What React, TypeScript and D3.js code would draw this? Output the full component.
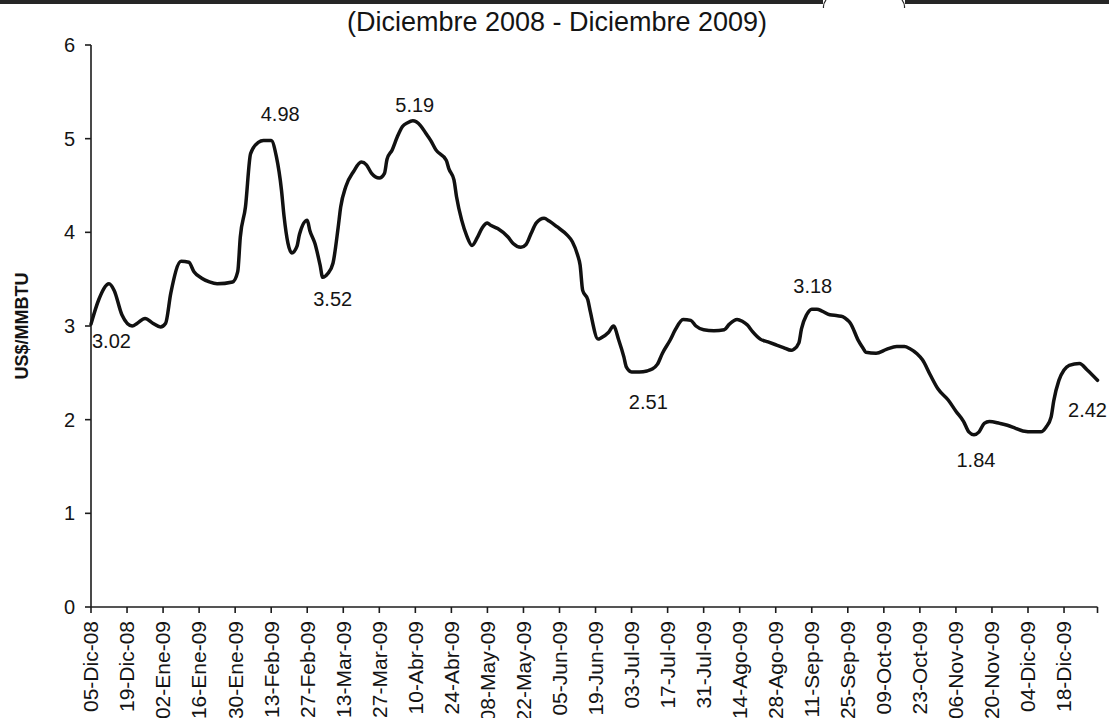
import React from "react";
import * as d3 from "d3";

const WIDTH = 1109;
const HEIGHT = 718;
const FONT = "'Liberation Sans', Arial, Helvetica, sans-serif";

const TITLE = "(Diciembre 2008 - Diciembre 2009)";
const Y_TITLE = "US$/MMBTU";
const Y_TICKS = [0, 1, 2, 3, 4, 5, 6];

const X_TICK_LABELS = [
  "05-Dic-08", "19-Dic-08", "02-Ene-09", "16-Ene-09", "30-Ene-09", "13-Feb-09",
  "27-Feb-09", "13-Mar-09", "27-Mar-09", "10-Abr-09", "24-Abr-09", "08-May-09",
  "22-May-09", "05-Jun-09", "19-Jun-09", "03-Jul-09", "17-Jul-09", "31-Jul-09",
  "14-Ago-09", "28-Ago-09", "11-Sep-09", "25-Sep-09", "09-Oct-09", "23-Oct-09",
  "06-Nov-09", "20-Nov-09", "04-Dic-09", "18-Dic-09",
];

// Henry Hub spot price, US$/MMBTU
const DATES = [
  "2008-12-05", "2008-12-08", "2008-12-12", "2008-12-14", "2008-12-17", "2008-12-21",
  "2008-12-23", "2008-12-26", "2008-12-29", "2009-01-01", "2009-01-03", "2009-01-05",
  "2009-01-09", "2009-01-12", "2009-01-14", "2009-01-17", "2009-01-20", "2009-01-23",
  "2009-01-29", "2009-01-31", "2009-02-01", "2009-02-03", "2009-02-05", "2009-02-08",
  "2009-02-10", "2009-02-13", "2009-02-15", "2009-02-17", "2009-02-18", "2009-02-21",
  "2009-02-23", "2009-02-24", "2009-02-27", "2009-02-28", "2009-03-02", "2009-03-04",
  "2009-03-05", "2009-03-07", "2009-03-09", "2009-03-11", "2009-03-12", "2009-03-14",
  "2009-03-17", "2009-03-20", "2009-03-22", "2009-03-24", "2009-03-27", "2009-03-29",
  "2009-03-30", "2009-04-01", "2009-04-03", "2009-04-05", "2009-04-07", "2009-04-09",
  "2009-04-12", "2009-04-14", "2009-04-16", "2009-04-18", "2009-04-22", "2009-04-23",
  "2009-04-25", "2009-04-26", "2009-04-28", "2009-04-30", "2009-05-02", "2009-05-04",
  "2009-05-06", "2009-05-08", "2009-05-09", "2009-05-12", "2009-05-16", "2009-05-18",
  "2009-05-21", "2009-05-23", "2009-05-25", "2009-05-27", "2009-05-30", "2009-06-01",
  "2009-06-04", "2009-06-08", "2009-06-10", "2009-06-12", "2009-06-13", "2009-06-14",
  "2009-06-16", "2009-06-17", "2009-06-20", "2009-06-21", "2009-06-24", "2009-06-26",
  "2009-06-28", "2009-06-30", "2009-07-01", "2009-07-03", "2009-07-06", "2009-07-09",
  "2009-07-11", "2009-07-13", "2009-07-15", "2009-07-18", "2009-07-20", "2009-07-23",
  "2009-07-26", "2009-07-28", "2009-07-31", "2009-08-04", "2009-08-08", "2009-08-10",
  "2009-08-13", "2009-08-15", "2009-08-17", "2009-08-19", "2009-08-22", "2009-08-25",
  "2009-08-28", "2009-08-31", "2009-09-03", "2009-09-04", "2009-09-06", "2009-09-07",
  "2009-09-09", "2009-09-11", "2009-09-13", "2009-09-15", "2009-09-18", "2009-09-21",
  "2009-09-23", "2009-09-25", "2009-09-26", "2009-09-29", "2009-10-01", "2009-10-02",
  "2009-10-06", "2009-10-10", "2009-10-14", "2009-10-17", "2009-10-19", "2009-10-22",
  "2009-10-24", "2009-10-27", "2009-10-30", "2009-11-03", "2009-11-06", "2009-11-09",
  "2009-11-11", "2009-11-13", "2009-11-15", "2009-11-17", "2009-11-19", "2009-11-23",
  "2009-11-26", "2009-11-29", "2009-12-02", "2009-12-06", "2009-12-09", "2009-12-11",
  "2009-12-13", "2009-12-14", "2009-12-16", "2009-12-18", "2009-12-20", "2009-12-24",
  "2009-12-27", "2009-12-31",
];

const PRICES = [
  3.02, 3.28, 3.45, 3.38, 3.12, 3.0,
  3.03, 3.08, 3.03, 2.99, 3.03, 3.35,
  3.69, 3.68, 3.58, 3.51, 3.47, 3.45,
  3.47, 3.58, 3.95, 4.27, 4.84, 4.96,
  4.98, 4.98, 4.81, 4.45, 4.17, 3.78,
  3.85, 3.98, 4.13, 4.02, 3.88, 3.65,
  3.52, 3.56, 3.67, 4.05, 4.27, 4.49,
  4.65, 4.75, 4.72, 4.63, 4.58, 4.63,
  4.78, 4.88, 5.02, 5.13, 5.17, 5.19,
  5.14, 5.06, 4.98, 4.88, 4.77, 4.68,
  4.56, 4.38, 4.13, 3.96, 3.86, 3.94,
  4.05, 4.1, 4.08, 4.04, 3.95, 3.88,
  3.84, 3.87, 3.99, 4.1, 4.15, 4.12,
  4.06, 3.97, 3.9, 3.76, 3.65, 3.38,
  3.28, 3.15, 2.86, 2.87, 2.93, 3.0,
  2.85, 2.67, 2.56, 2.51, 2.51, 2.52,
  2.54, 2.59, 2.71, 2.85, 2.96, 3.07,
  3.06, 3.0, 2.96, 2.95, 2.96, 3.02,
  3.07, 3.05, 3.01, 2.94, 2.86, 2.83,
  2.8, 2.77, 2.74, 2.75, 2.82, 2.97,
  3.12, 3.18, 3.18, 3.16, 3.12, 3.11,
  3.1, 3.06, 3.03, 2.85, 2.76, 2.72,
  2.71, 2.75, 2.78, 2.78, 2.76, 2.7,
  2.64, 2.48, 2.33, 2.21, 2.09, 1.98,
  1.87, 1.84, 1.87, 1.96, 1.98, 1.96,
  1.94, 1.91, 1.88, 1.87, 1.87, 1.92,
  2.03, 2.2, 2.42, 2.53, 2.58, 2.6,
  2.53, 2.42,
];

// Dates whose price is written next to the line
const LABELED_DATES = [
  "2008-12-05", "2009-02-13", "2009-03-05", "2009-04-09",
  "2009-07-06", "2009-09-11", "2009-11-13", "2009-12-31",
];

// Where each value label sits relative to its point
const LABEL_PLACEMENT: Record<string, { anchor: string; dx: number; dy: number }> = {
  "2008-12-05": { anchor: "start", dx: 1, dy: 24 },
  "2009-02-13": { anchor: "middle", dx: 9, dy: -20 },
  "2009-03-05": { anchor: "middle", dx: 10, dy: 29 },
  "2009-04-09": { anchor: "middle", dx: 2, dy: -9 },
  "2009-07-06": { anchor: "middle", dx: 9, dy: 37 },
  "2009-09-11": { anchor: "middle", dx: 1, dy: -16 },
  "2009-11-13": { anchor: "middle", dx: 2, dy: 32 },
  "2009-12-31": { anchor: "middle", dx: -10, dy: 37 },
};

const MONTHS_ES: Record<string, number> = {
  Ene: 0, Feb: 1, Mar: 2, Abr: 3, May: 4, Jun: 5,
  Jul: 6, Ago: 7, Sep: 8, Oct: 9, Nov: 10, Dic: 11,
};

const parseDate = d3.timeParse("%Y-%m-%d");
const parseTickLabel = (s: string) => {
  const [d, m, y] = s.split("-");
  return new Date(2000 + Number(y), MONTHS_ES[m], Number(d));
};

const MARGIN = { left: 91, right: 11.5, top: 45, bottom: 111 };

export default function App() {
  const series = DATES.map((d, i) => ({ date: parseDate(d) as Date, value: PRICES[i] }));
  const byDate = new Map(DATES.map((d, i) => [d, series[i]]));

  const x = d3
    .scaleTime()
    .domain([series[0].date, series[series.length - 1].date])
    .range([MARGIN.left, WIDTH - MARGIN.right]);
  const y = d3
    .scaleLinear()
    .domain([0, 6])
    .range([HEIGHT - MARGIN.bottom, MARGIN.top]);

  const line = d3
    .line<{ date: Date; value: number }>()
    .x((d) => x(d.date))
    .y((d) => y(d.value))
    .curve(d3.curveMonotoneX);

  const x0 = x.range()[0];
  const x1 = x.range()[1];
  const yBase = y(0);
  const axisColor = "#1c1c1c";
  const textColor = "#141414";

  return (
    <svg
      width={WIDTH}
      height={HEIGHT}
      viewBox={`0 0 ${WIDTH} ${HEIGHT}`}
      style={{ position: "absolute", left: 0, top: 0, background: "#fff" }}
      fontFamily={FONT}
    >
      <rect x={0} y={0} width={WIDTH} height={HEIGHT} fill="#fff" />

      {/* heading band along the top edge */}
      <rect x={0} y={0} width={823} height={4} fill="#262626" />
      <rect x={905} y={0} width={WIDTH - 905} height={4} fill="#262626" />
      <path d="M826,0 Q823,4 823.5,8" fill="none" stroke="#262626" strokeWidth={1.2} />
      <path d="M902,0 Q905,4 904.5,8" fill="none" stroke="#262626" strokeWidth={1.2} />

      <text x={557} y={31} textAnchor="middle" fontSize={27} fill={textColor}>
        {TITLE}
      </text>

      {/* y axis */}
      <line x1={x0} x2={x0} y1={y(6)} y2={yBase} stroke={axisColor} strokeWidth={1.6} />
      {Y_TICKS.map((t) => (
        <g key={t}>
          <line x1={x0 - 6} x2={x0} y1={y(t)} y2={y(t)} stroke={axisColor} strokeWidth={1.6} />
          <text x={x0 - 16} y={y(t)} dy="0.35em" textAnchor="end" fontSize={20} fill={textColor}>
            {t}
          </text>
        </g>
      ))}
      <text
        transform={`translate(22,${y(3)}) rotate(-90)`}
        textAnchor="middle"
        dy="0.35em"
        fontSize={18}
        fontWeight="bold"
        fill={textColor}
      >
        {Y_TITLE}
      </text>

      {/* x axis */}
      <line x1={x0} x2={x1} y1={yBase} y2={yBase} stroke={axisColor} strokeWidth={1.6} />
      <line x1={x1} x2={x1} y1={yBase} y2={yBase + 6} stroke={axisColor} strokeWidth={1.6} />
      {X_TICK_LABELS.map((lbl) => {
        const tx = x(parseTickLabel(lbl));
        return (
          <g key={lbl}>
            <line x1={tx} x2={tx} y1={yBase} y2={yBase + 6} stroke={axisColor} strokeWidth={1.6} />
            <text
              transform={`translate(${tx},${yBase + 14}) rotate(-90)`}
              textAnchor="end"
              dy="0.35em"
              fontSize={21}
              fill={textColor}
            >
              {lbl}
            </text>
          </g>
        );
      })}

      {/* price line */}
      <path
        d={line(series) ?? ""}
        fill="none"
        stroke="#111"
        strokeWidth={3.5}
        strokeLinejoin="round"
        strokeLinecap="round"
      />

      {/* value labels */}
      {LABELED_DATES.map((d) => {
        const p = byDate.get(d)!;
        const pl = LABEL_PLACEMENT[d];
        return (
          <text
            key={d}
            x={x(p.date) + pl.dx}
            y={y(p.value) + pl.dy}
            textAnchor={pl.anchor as any}
            fontSize={20}
            fill={textColor}
          >
            {p.value.toFixed(2)}
          </text>
        );
      })}
    </svg>
  );
}
